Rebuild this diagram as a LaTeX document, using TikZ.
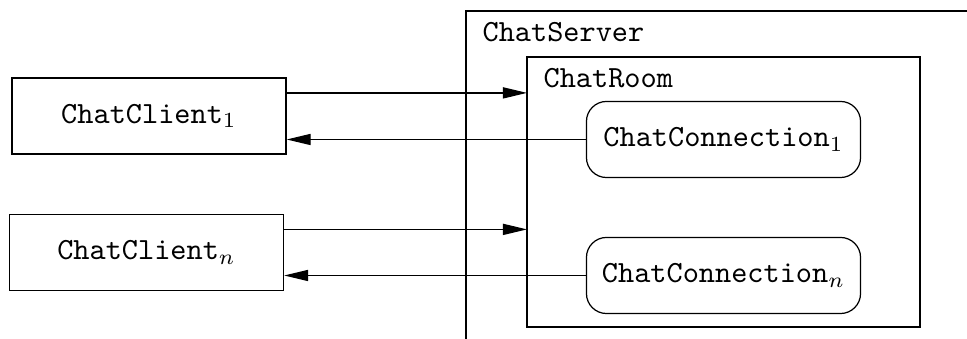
\documentclass[tikz,border=0pt]{standalone}
\usepackage{tikz}
\usetikzlibrary{arrows.meta,positioning}
\newcommand{\boxWidth}{89pt}
\newcommand{\boxHeight}{24.7pt}
\newcommand{\cornerRadius}{6.5pt}
\newcommand{\msgOffset}{7.5pt}
\tikzset{
	client/.style={draw, minimum width=\boxWidth, minimum height=\boxHeight, inner sep=0pt, font=\ttfamily},
	connection/.style={client, rounded corners=\cornerRadius},
	container/.style={draw},
	title/.style={anchor=north west, inner xsep=5.2pt, inner ysep=3.4pt, font=\ttfamily},
	msg/.style={-{Triangle[length=7.8pt,width=3.6pt]}}
}
\begin{document}
\begin{tikzpicture}[x=0.3247pt, y=-0.3247pt]
	\useasboundingbox (0,0) rectangle (967,339);
	\clip (0,0) rectangle (967,339);

	% server and room
	\draw[container] (466,11) rectangle (1000,360);
	\node[title] (serverlabel) at (466,11) {ChatServer};
	\draw[container] (527,57) rectangle (920,327);
	\coordinate (room) at (527,57);
	\node[title] (roomlabel) at (room) {ChatRoom};

	% clients
	\node[client] (client1) at (149,116) {ChatClient$_1$};
	\node[client] (clientn) at (146.5,252.5) {ChatClient$_n$};

	% connections
	\node[connection] (conn1) at (723.5,139.5) {ChatConnection$_1$};
	\node[connection] (connn) at (723.5,275.5) {ChatConnection$_n$};

	% messages
	\draw[msg] ([yshift=\msgOffset]client1.east) -- ([yshift=\msgOffset]client1.east -| room);
	\draw[msg] (conn1.west) -- (conn1.west -| client1.east);
	\draw[msg] ([yshift=\msgOffset]clientn.east) -- ([yshift=\msgOffset]clientn.east -| room);
	\draw[msg] (connn.west) -- (connn.west -| clientn.east);
\end{tikzpicture}
\end{document}
